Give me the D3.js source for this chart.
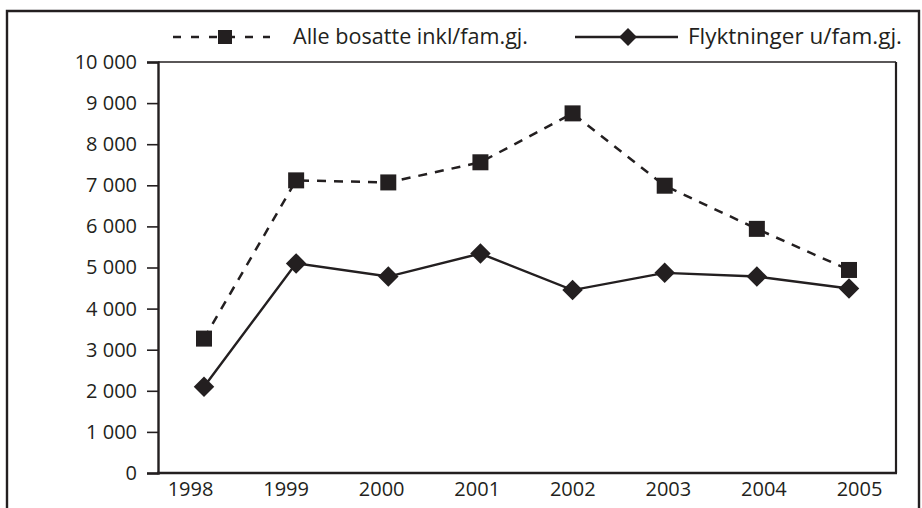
<!DOCTYPE html>
<html>
<head>
<meta charset="utf-8">
<script src="https://cdn.jsdelivr.net/npm/d3@7"></script>
<style>
  body { margin: 0; background: #fff; }
  text { font-family: "Open Sans", "Noto Sans", sans-serif; fill: #231f20; }
</style>
</head>
<body>
<div id="chart"></div>
<script>
(function(d3) {
    'use strict';

    // Data
    var years = ['1998', '1999', '2000', '2001', '2002', '2003', '2004', '2005'];
    var alleBosatte = [3270, 7120, 7070, 7560, 8750, 6990, 5940, 4940];
    var flyktninger = [2100, 5100, 4780, 5340, 4450, 4870, 4780, 4490];
    var yTicks = [0, 1000, 2000, 3000, 4000, 5000, 6000, 7000, 8000, 9000, 10000];
    var seriesNames = ['Alle bosatte inkl/fam.gj.', 'Flyktninger u/fam.gj.'];

    var width = 922;
    var height = 508;
    var ink = '#231f20';
    var fontSize = 20;

    var svg = d3.select('#chart')
        .append('svg')
        .attr('width', width)
        .attr('height', height);

    // Outer frame (left, top, right)
    svg.append('path')
        .attr('d', 'M7,' + height + 'V11H919V' + height)
        .attr('fill', 'none')
        .attr('stroke', ink)
        .attr('stroke-width', 2.4);

    // Scales
    var x = d3.scalePoint().domain(years).range([204, 849]);
    var xLabels = d3.scalePoint().domain(years).range([190, 859]);
    var y = d3.scaleLinear().domain([0, 10000]).range([473, 62]);

    var fmt = function(v) {
        return d3.format(',')(v).replace(',', ' ');
    };

    // Plot box
    svg.append('line')
        .attr('x1', 158).attr('x2', 896)
        .attr('y1', y(10000)).attr('y2', y(10000))
        .attr('stroke', ink).attr('stroke-width', 1.6);
    svg.append('line')
        .attr('x1', 896).attr('x2', 896)
        .attr('y1', y(10000)).attr('y2', y(0))
        .attr('stroke', ink).attr('stroke-width', 2.2);

    // Y axis
    var yAxis = svg.append('g')
        .attr('transform', 'translate(158,0)')
        .call(d3.axisLeft(y).tickValues(yTicks).tickFormat(fmt).tickSize(11).tickPadding(10));
    yAxis.select('.domain').attr('stroke', ink).attr('stroke-width', 2.4);
    yAxis.selectAll('.tick line').attr('stroke', ink).attr('stroke-width', 1.6);
    yAxis.selectAll('text')
        .attr('font-size', fontSize)
        .attr('fill', ink)
        .style('font-family', '"Open Sans", sans-serif');

    // X axis
    var xAxis = svg.append('g')
        .attr('transform', 'translate(0,' + y(0) + ')')
        .call(d3.axisBottom(xLabels).tickSize(0).tickPadding(9));
    xAxis.select('.domain').remove();
    xAxis.selectAll('text')
        .attr('font-size', fontSize)
        .attr('fill', ink)
        .style('font-family', '"Open Sans", sans-serif');
    svg.append('line')
        .attr('x1', 157).attr('x2', 897)
        .attr('y1', y(0)).attr('y2', y(0))
        .attr('stroke', ink).attr('stroke-width', 2.4);

    // Lines
    var line = d3.line()
        .x(function(d, i) { return x(years[i]); })
        .y(function(d) { return y(d); });

    svg.append('path')
        .datum(alleBosatte)
        .attr('d', line)
        .attr('fill', 'none')
        .attr('stroke', ink)
        .attr('stroke-width', 2.5)
        .attr('stroke-dasharray', '9,8');

    svg.append('path')
        .datum(flyktninger)
        .attr('d', line)
        .attr('fill', 'none')
        .attr('stroke', ink)
        .attr('stroke-width', 2.4);

    // Markers
    var sq = 16;
    svg.selectAll('.sq')
        .data(alleBosatte)
        .enter()
        .append('rect')
        .attr('class', 'sq')
        .attr('x', function(d, i) { return x(years[i]) - sq / 2; })
        .attr('y', function(d) { return y(d) - sq / 2; })
        .attr('width', sq)
        .attr('height', sq)
        .attr('fill', ink);

    var diamond = d3.symbol().type(d3.symbolSquare).size(210);
    svg.selectAll('.dia')
        .data(flyktninger)
        .enter()
        .append('path')
        .attr('class', 'dia')
        .attr('d', diamond)
        .attr('transform', function(d, i) {
            return 'translate(' + x(years[i]) + ',' + y(d) + ') rotate(45)';
        })
        .attr('fill', ink);

    // Legend
    var legendY = 37;
    var lg1 = svg.append('g');
    lg1.append('line')
        .attr('x1', 173).attr('x2', 270)
        .attr('y1', legendY).attr('y2', legendY)
        .attr('stroke', ink).attr('stroke-width', 2.5)
        .attr('stroke-dasharray', '8,10');
    lg1.append('rect')
        .attr('x', 218).attr('y', legendY - 7)
        .attr('width', 14).attr('height', 14)
        .attr('fill', ink);
    lg1.append('text')
        .attr('x', 293).attr('y', legendY)
        .attr('dy', '0.35em')
        .attr('font-size', 21)
        .attr('textLength', 235)
        .attr('lengthAdjust', 'spacingAndGlyphs')
        .text(seriesNames[0]);

    var lg2 = svg.append('g');
    lg2.append('line')
        .attr('x1', 575).attr('x2', 678)
        .attr('y1', legendY).attr('y2', legendY)
        .attr('stroke', ink).attr('stroke-width', 2.4);
    lg2.append('path')
        .attr('d', d3.symbol().type(d3.symbolSquare).size(160))
        .attr('transform', 'translate(628,' + legendY + ') rotate(45)')
        .attr('fill', ink);
    lg2.append('text')
        .attr('x', 688).attr('y', legendY)
        .attr('dy', '0.35em')
        .attr('font-size', 21)
        .attr('textLength', 214)
        .attr('lengthAdjust', 'spacingAndGlyphs')
        .text(seriesNames[1]);

})(window.d3);
</script>
</body>
</html>
